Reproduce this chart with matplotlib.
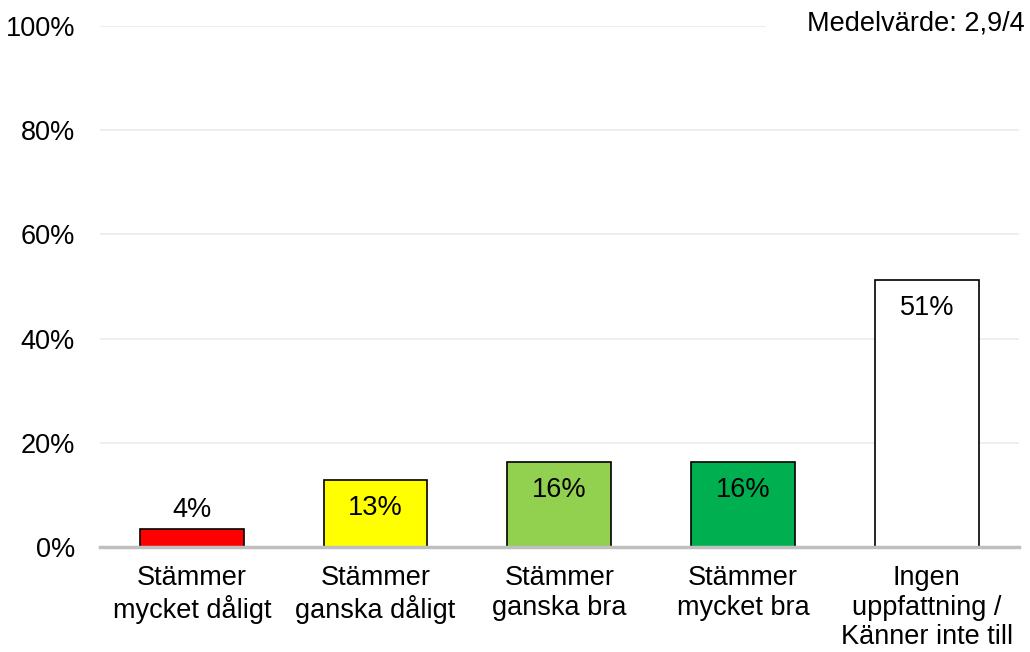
import matplotlib
matplotlib.use("Agg")
import matplotlib.pyplot as plt
import numpy as np

categories = ["Stämmer\nmycket dåligt", "Stämmer\nganska dåligt", "Stämmer\nganska bra",
              "Stämmer\nmycket bra", "Ingen\nuppfattning /\nKänner inte till"]
values = [3.6, 12.9, 16.3, 16.3, 51.3]
labels = ["4%", "13%", "16%", "16%", "51%"]
colors = ["#FF0000", "#FFFF00", "#92D050", "#00B050", "#FFFFFF"]
yticks = [0, 20, 40, 60, 80, 100]
mean_text = "Medelvärde: 2,9/4"

plt.rcParams['font.family'] = ['Liberation Sans', 'DejaVu Sans']
fs = 19.5

fig = plt.figure(figsize=(10.3, 6.52), dpi=100)
ax = fig.add_axes([0.097, 0.1605, 0.892, 0.8])

x = np.arange(len(categories))
ax.bar(x, values, width=0.565, color=colors, edgecolor="black", linewidth=1.2, zorder=3)

for xi, v, lab in zip(x, values, labels):
    if v < 8:
        ax.annotate(lab, (xi, v), xytext=(0, 4), textcoords="offset points",
                    ha="center", va="bottom", fontsize=fs)
    else:
        ax.annotate(lab, (xi, v), xytext=(0, -20), textcoords="offset points",
                    ha="center", va="center", fontsize=fs)

ax.set_xlim(-0.5, len(categories) - 0.5)
ax.set_ylim(0, 100)
ax.set_yticks(yticks)
ax.set_yticklabels(["{}%".format(t) for t in yticks], fontsize=fs)
ax.set_xticks(x)
ax.set_xticklabels(categories, fontsize=fs, linespacing=1.17)
ax.tick_params(axis="y", length=0, pad=18)
ax.tick_params(axis="x", length=0, pad=13)

ax.grid(axis="y", color="#EDEDED", linewidth=1.3, zorder=0)
for s in ["top", "right", "left"]:
    ax.spines[s].set_visible(False)
ax.spines["bottom"].set_color("#BFBFBF")
ax.spines["bottom"].set_linewidth(2.5)
ax.spines["bottom"].set_zorder(4)

fig.text(0.995, 0.964, mean_text, ha="right", va="center", fontsize=fs,
         bbox=dict(facecolor="white", edgecolor="none", pad=30), zorder=5)

fig.savefig("out.png", dpi=100, facecolor="white")
